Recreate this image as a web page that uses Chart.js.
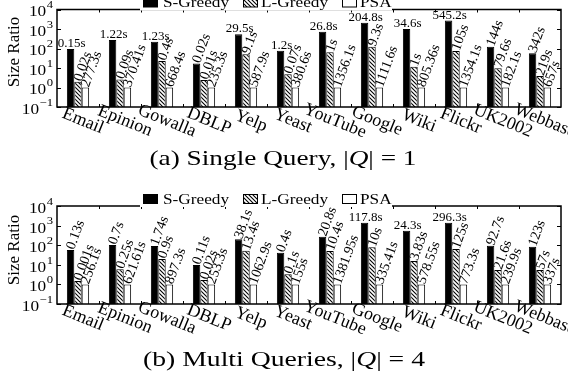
<!DOCTYPE html>
<html>
<head>
<meta charset="utf-8">
<script src="https://cdn.jsdelivr.net/npm/chart.js@4.4.0/dist/chart.umd.min.js"></script>
<style>
  body { margin: 0; background: #fff; }
  canvas { display: block; }
</style>
</head>
<body>
<canvas id="single" width="568" height="190"></canvas>
<canvas id="multi" width="568" height="189"></canvas>
<script>
const categories = ['Email', 'Epinion', 'Gowalla', 'DBLP', 'Yelp', 'Yeast', 'YouTube', 'Google', 'Wiki', 'Flickr', 'UK2002', 'Webbase'];
const seriesNames = ['S-Greedy', 'L-Greedy', 'PSA'];
const tickExponents = [-1, 0, 1, 2, 3, 4];

// (a) single query, size ratio
const singleS = [93, 275, 224, 17, 535, 77, 730, 2100, 1000, 2700, 124, 57];
const singleL = [2, 2.6, 23, 2.4, 50, 4.8, 64, 124, 11.7, 75, 9.6, 3.9];
const singleP = [1, 1, 1, 1, 1, 1, 1, 1, 1, 1, 1, 1];
// (a) running times
const singleSTime = ['0.15s', '1.22s', '1.23s', '0.02s', '29.5s', '1.2s', '26.8s', '204.8s', '34.6s', '545.2s', '144s', '342s'];
const singleLTime = ['0.02s', '0.09s', '0.4s', '0.01s', '9.1s', '0.07s', '1s', '9.3s', '1s', '105s', '79.6s', '219s'];
const singlePTime = ['277.3s', '370.41s', '668.4s', '235.3s', '587.9s', '380.6s', '1356.1s', '1111.6s', '805.36s', '1354.1s', '182.1s', '657s'];

// (b) multi queries, size ratio
const multiS = [57, 102, 91, 9.8, 200, 41, 270, 1400, 550, 1400, 94, 84];
const multiL = [1.5, 5.9, 20, 1.7, 52, 3.3, 50, 78, 15.6, 64, 5.4, 5.4];
const multiP = [1, 1, 1, 1, 1, 1, 1, 1, 1, 1, 1, 1];
// (b) running times
const multiSTime = ['0.13s', '0.7s', '1.74s', '0.11s', '38.1s', '0.4s', '20.8s', '117.8s', '24.3s', '296.3s', '92.7s', '123s'];
const multiLTime = ['0.001s', '0.25s', '0.9s', '0.02s', '13.4s', '0.1s', '10.4s', '10s', '3.83s', '125s', '21.6s', '57s'];
const multiPTime = ['256.1s', '621.61s', '897.3s', '253.3s', '1062.9s', '155s', '1381.95s', '335.41s', '578.55s', '773.3s', '239.9s', '337s'];

const SERIF = '"Liberation Serif", "DejaVu Serif", serif';

// hatch for L-Greedy
const pc = document.createElement('canvas');
pc.width = 4; pc.height = 4;
const pctx = pc.getContext('2d');
pctx.fillStyle = '#fff';
pctx.fillRect(0, 0, 4, 4);
pctx.strokeStyle = '#000';
pctx.lineWidth = 1.1;
pctx.beginPath();
pctx.moveTo(-1, -1); pctx.lineTo(5, 5);
pctx.moveTo(-1, 3); pctx.lineTo(1, 5);
pctx.moveTo(3, -1); pctx.lineTo(5, 1);
pctx.stroke();
const hatch = pctx.createPattern(pc, 'repeat');
const fills = ['#000', hatch, '#fff'];

function stretchText(ctx, text, x, y, font, sx, align) {
  ctx.save();
  ctx.font = font;
  const w = ctx.measureText(text).width * sx;
  let x0 = x;
  if (align === 'right') x0 = x - w;
  if (align === 'center') x0 = x - w / 2;
  ctx.translate(x0, y);
  ctx.scale(sx, 1);
  ctx.textAlign = 'left';
  ctx.fillText(text, 0, 0);
  ctx.restore();
  return w;
}

const panelPlugin = {
  id: 'panel',
  afterDraw(chart, args, opts) {
    const ctx = chart.ctx;
    const a = chart.chartArea;
    const xs = chart.scales.x;
    const ys = chart.scales.y;
    ctx.save();
    ctx.fillStyle = '#000';
    ctx.strokeStyle = '#000';

    // frame and ticks
    ctx.lineWidth = 1.5;
    ctx.strokeRect(a.left, a.top, a.right - a.left, a.bottom - a.top);
    ctx.lineWidth = 1;
    ctx.beginPath();
    tickExponents.forEach(e => {
      const y = Math.round(ys.getPixelForValue(Math.pow(10, e))) + 0.5;
      ctx.moveTo(a.left, y); ctx.lineTo(a.left + 4, y);
      ctx.moveTo(a.right, y); ctx.lineTo(a.right - 4, y);
    });
    for (let i = 1; i < categories.length; i++) {
      const x = Math.round((xs.getPixelForValue(i - 1) + xs.getPixelForValue(i)) / 2) + 0.5;
      ctx.moveTo(x, a.bottom); ctx.lineTo(x, a.bottom - 3);
      ctx.moveTo(x, a.top); ctx.lineTo(x, a.top + 3);
    }
    ctx.stroke();

    // y tick labels 10^e
    ctx.textBaseline = 'middle';
    tickExponents.forEach(e => {
      const y = ys.getPixelForValue(Math.pow(10, e));
      const ew = stretchText(ctx, String(e).replace('-', '\u2212'), 53, y - 4, '11px ' + SERIF, 1.15, 'right');
      stretchText(ctx, '10', 53 - ew - 0.5, y + 3, '15px ' + SERIF, 1.15, 'right');
    });

    // y title
    ctx.save();
    ctx.translate(15, opts.titleY);
    ctx.rotate(-Math.PI / 2);
    ctx.font = '17px ' + SERIF;
    ctx.textAlign = 'center';
    ctx.fillText('Size Ratio', 0, 0);
    ctx.restore();

    // x labels
    categories.forEach((c, i) => {
      ctx.save();
      ctx.translate(xs.getPixelForValue(i) + 5, a.bottom + 14);
      ctx.rotate(22 * Math.PI / 180);
      ctx.font = '18px ' + SERIF;
      ctx.textAlign = 'center';
      ctx.fillText(c, 0, 0);
      ctx.restore();
    });

    // value labels
    opts.times.forEach((arr, k) => {
      const meta = chart.getDatasetMeta(k);
      arr.forEach((t, i) => {
        const bar = meta.data[i];
        if (k === 0 && opts.flat.includes(i)) {
          ctx.font = '13px ' + SERIF;
          ctx.textAlign = 'center';
          ctx.textBaseline = 'alphabetic';
          ctx.fillText(t, bar.x + 1, bar.y - 2);
        } else {
          ctx.save();
          ctx.translate(bar.x, bar.y - 1);
          ctx.rotate(-70 * Math.PI / 180);
          ctx.font = '14px ' + SERIF;
          ctx.textAlign = 'left';
          ctx.textBaseline = 'middle';
          ctx.fillText(t, 0, 0);
          ctx.restore();
        }
      });
    });

    // legend
    const ly = a.top - 7;
    ctx.fillStyle = '#fff';
    ctx.fillRect(140, 0, 252, a.top + 1);
    const boxes = [143, 243, 342];
    const texts = [163, 261, 360];
    seriesNames.forEach((n, k) => {
      ctx.fillStyle = fills[k];
      ctx.fillRect(boxes[k], ly - 4.5, 15, 9);
      ctx.lineWidth = 1;
      ctx.strokeRect(boxes[k] + 0.5, ly - 4.5, 14, 9);
      ctx.fillStyle = '#000';
      ctx.textBaseline = 'middle';
      stretchText(ctx, n, texts[k], ly + 1, '15px ' + SERIF, 1.15, 'left');
    });

    // caption
    const parts = opts.caption;
    ctx.textBaseline = 'middle';
    let total = 0;
    parts.forEach(p => { ctx.font = p[1] + '22px ' + SERIF; total += ctx.measureText(p[0]).width; });
    const sx = opts.capWidth / total;
    let cx = opts.capX - opts.capWidth / 2;
    parts.forEach(p => {
      cx += stretchText(ctx, p[0], cx, opts.capY, p[1] + '22px ' + SERIF, sx, 'left');
    });

    ctx.restore();
  }
};

function makePanel(id, values, times, flat, pad, extra) {
  new Chart(document.getElementById(id), {
    type: 'bar',
    data: {
      labels: categories,
      datasets: seriesNames.map((name, k) => ({
        label: name,
        data: values[k],
        backgroundColor: fills[k],
        borderColor: '#000',
        borderWidth: 1,
        categoryPercentage: 0.53,
        barPercentage: 1
      }))
    },
    options: {
      responsive: false,
      animation: false,
      layout: { padding: pad },
      plugins: {
        legend: { display: false },
        tooltip: { enabled: false },
        panel: Object.assign({ times: times, flat: flat }, extra)
      },
      scales: {
        x: { display: false },
        y: { display: false, type: 'logarithmic', min: 0.1, max: 10000 }
      }
    },
    plugins: [panelPlugin]
  });
}

makePanel('single', [singleS, singleL, singleP], [singleSTime, singleLTime, singlePTime],
  [0, 1, 2, 4, 5, 6, 7, 8, 9],
  { left: 57, right: 7, top: 9.5, bottom: 83 },
  { titleY: 52, capX: 283, capY: 159, capWidth: 267,
    caption: [['(a) Single Query, |', ''], ['Q', 'italic '], ['| = 1', '']] });

makePanel('multi', [multiS, multiL, multiP], [multiSTime, multiLTime, multiPTime],
  [7, 8, 9],
  { left: 57, right: 7, top: 16, bottom: 75 },
  { titleY: 60, capX: 284, capY: 170, capWidth: 282,
    caption: [['(b) Multi Queries, |', ''], ['Q', 'italic '], ['| = 4', '']] });
</script>
</body>
</html>
